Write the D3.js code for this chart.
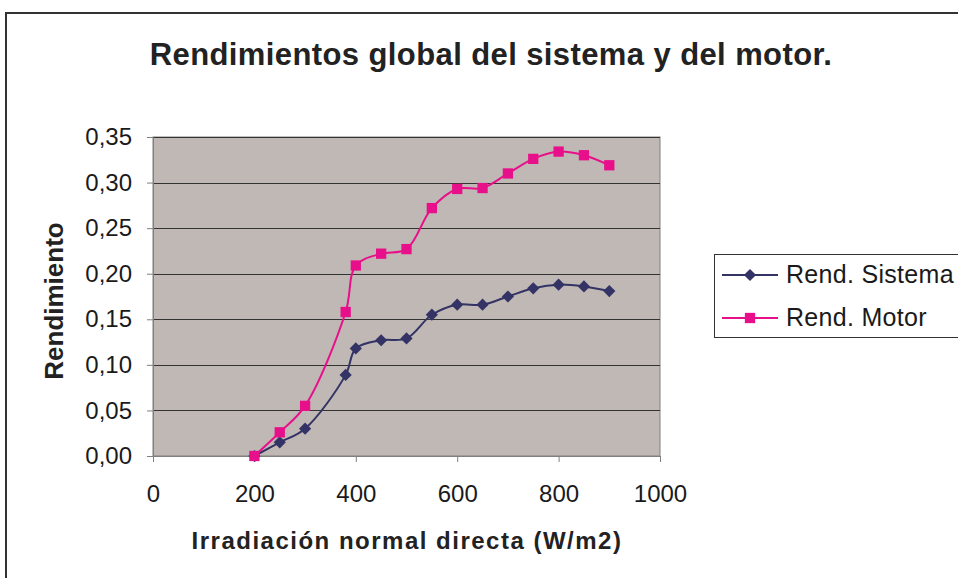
<!DOCTYPE html>
<html><head><meta charset="utf-8">
<script src="https://cdn.jsdelivr.net/npm/d3@7"></script>
<style>body{margin:0;background:#fff}svg{display:block}</style>
</head><body><svg id="c" width="958" height="578"></svg>
<script>
const irradiance = [200,250,300,380,400,450,500,550,600,650,700,750,800,850,900];
const rendSistema = [0.000,0.015,0.030,0.089,0.118,0.127,0.129,0.155,0.166,0.166,0.175,0.184,0.188,0.186,0.181];
const rendMotor = [0.000,0.026,0.055,0.158,0.209,0.222,0.227,0.272,0.293,0.294,0.310,0.326,0.334,0.330,0.319];
const xTicks = [0,200,400,600,800,1000];
const yTicks = [0,0.05,0.10,0.15,0.20,0.25,0.30,0.35];
const seriesNames = ["Rend. Sistema","Rend. Motor"];
const seriesColors = ["#333366","#E8108A"];

const svg = d3.select("#c");
const font = "Arial, 'Liberation Sans', sans-serif";
svg.append("rect").attr("x",6).attr("y",13).attr("width",960).attr("height",580)
  .attr("fill","#fff").attr("stroke","#333").attr("stroke-width",2);

const x = d3.scaleLinear().domain([0,1000]).range([153,660]);
const y = d3.scaleLinear().domain([0,0.35]).range([456,137]);

svg.append("rect").attr("x",x(0)).attr("y",y(0.35)).attr("width",x(1000)-x(0)).attr("height",y(0)-y(0.35))
  .attr("fill","#C0B8B4").attr("stroke","#808080").attr("stroke-width",1);

svg.append("g").selectAll("line").data(yTicks.slice(1)).join("line")
  .attr("x1",x(0)).attr("x2",x(1000)).attr("y1",d=>Math.round(y(d))+0.5).attr("y2",d=>Math.round(y(d))+0.5)
  .attr("stroke","#333").attr("stroke-width",1);

const fmt = d=>d3.format(".2f")(d).replace(".",",");
const yAxis = svg.append("g").attr("transform",`translate(${x(0)},0)`)
  .call(d3.axisLeft(y).tickValues(yTicks).tickFormat(fmt).tickSize(6).tickPadding(15));
const xAxis = svg.append("g").attr("transform",`translate(0,${y(0)})`)
  .call(d3.axisBottom(x).tickValues(xTicks).tickFormat(d3.format("d")).tickSize(6).tickPadding(23));
[yAxis,xAxis].forEach(a=>{
  a.selectAll("path,line").attr("stroke","#808080");
  a.selectAll("text").attr("font-family",font).attr("font-size",24).attr("fill","#1a1a1a");
});

const line = d3.line().curve(d3.curveCatmullRom.alpha(0.5)).x(d=>x(d[0])).y(d=>y(d[1]));
const sData = [irradiance.map((v,i)=>[v,rendSistema[i]]), irradiance.map((v,i)=>[v,rendMotor[i]])];
const diamond = d3.symbol().type(d3.symbolDiamond2).size(95);
const square = d3.symbol().type(d3.symbolSquare2).size(135);

sData.forEach((data,k)=>{
  svg.append("path").datum(data).attr("d",line).attr("fill","none")
    .attr("stroke",seriesColors[k]).attr("stroke-width",2);
  svg.append("g").selectAll("path").data(data).join("path")
    .attr("transform",d=>`translate(${x(d[0])},${y(d[1])})`)
    .attr("d",k===0?diamond:square).attr("fill",seriesColors[k]);
});

svg.append("text").attr("x",491).attr("y",65).attr("text-anchor","middle")
  .attr("font-family",font).attr("font-weight","bold").attr("font-size",31).attr("fill","#222")
  .attr("letter-spacing",0.4)
  .text("Rendimientos global del sistema y del motor.");
svg.append("text").attr("transform","translate(63,301) rotate(-90)").attr("text-anchor","middle")
  .attr("font-family",font).attr("font-weight","bold").attr("font-size",26).attr("fill","#222")
  .text("Rendimiento");
svg.append("text").attr("x",407).attr("y",549).attr("text-anchor","middle")
  .attr("font-family",font).attr("font-weight","bold").attr("font-size",24).attr("fill","#222")
  .attr("letter-spacing",1.5)
  .text("Irradiación normal directa (W/m2)");

const lg = svg.append("g");
lg.append("rect").attr("x",714.5).attr("y",254.5).attr("width",260).attr("height",83)
  .attr("fill","#fff").attr("stroke","#333").attr("stroke-width",1);
seriesNames.forEach((n,k)=>{
  const ly = 275 + k*43;
  lg.append("line").attr("x1",722).attr("x2",778).attr("y1",ly).attr("y2",ly)
    .attr("stroke",seriesColors[k]).attr("stroke-width",2);
  lg.append("path").attr("transform",`translate(750,${ly})`).attr("d",k===0?diamond:square).attr("fill",seriesColors[k]);
  lg.append("text").attr("x",786).attr("y",ly+8).attr("font-family",font).attr("font-size",25)
    .attr("letter-spacing",0.3).attr("fill","#1a1a1a").text(n);
});
</script></body></html>
